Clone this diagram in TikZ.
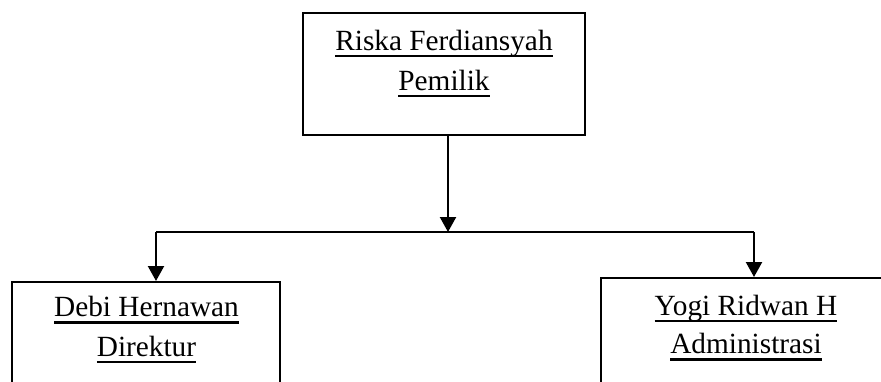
\documentclass[tikz,border=0pt]{standalone}
\usepackage{fontspec}
\setmainfont{Liberation Serif}
\usetikzlibrary{arrows.meta}
\newcommand\ulx[1]{\leavevmode\setbox0\hbox{#1}\rlap{\raisebox{-7pt}{\rule{\wd0}{2.1pt}}}\box0}
\tikzset{
  box/.style={draw, line width=2pt, inner sep=0pt, fill=none},
  lbl/.style={anchor=base, inner sep=0pt, font=\fontsize{29.3}{38}\selectfont},
  conn/.style={line width=2.2pt},
  arr/.style={conn, -{Triangle[width=16pt,length=15pt]}}
}
\begin{document}
\begin{tikzpicture}[x=1pt,y=-1pt]
\useasboundingbox (0,0) rectangle (881,381);
\clip (0,0) rectangle (881,381);
\fill[white] (0,0) rectangle (881,381);
% boxes
\node[box, minimum width=282pt, minimum height=122pt] (top) at (444,74) {};
\node[box, minimum width=268pt, minimum height=138pt] (left) at (146,351) {};
\node[box, minimum width=319pt, minimum height=142pt] (right) at (760.5,349) {};
% texts
\node[lbl] (t1) at (444,50) {\ulx{Riska Ferdiansyah}};
\node[lbl] (t2) at (444,90) {\ulx{Pemilik}};
\node[lbl] (l1) at (146.5,316.5) {\ulx{Debi Hernawan}};
\node[lbl] (l2) at (146.5,356) {\ulx{Direktur}};
\node[lbl] (r1) at (746,315) {\ulx{Yogi Ridwan H}};
\node[lbl] (r2) at (746,353.5) {\ulx{Administrasi}};
% connectors
\coordinate (j) at (448,232);
\coordinate (jl) at (156,232);
\coordinate (jr) at (754,232);
\draw[arr] (top.south -| j) -- (j);
\draw[conn] (jl) -- (jr);
\draw[arr] (jl) -- (left.north -| jl);
\draw[arr] (jr) -- (right.north -| jr);
\end{tikzpicture}
\end{document}
